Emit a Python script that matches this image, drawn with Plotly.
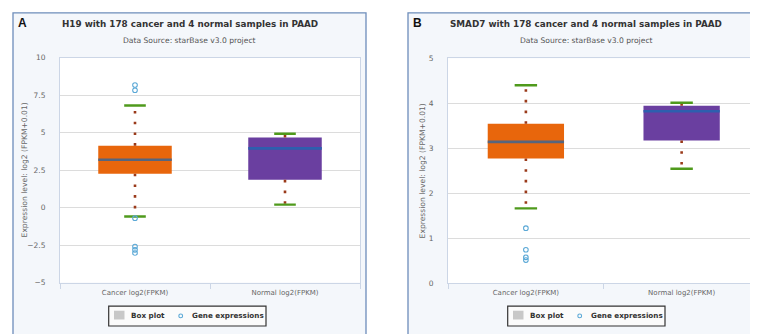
import plotly.graph_objects as go

# ---------------- data ----------------
categories = ["Cancer log2(FPKM)", "Normal log2(FPKM)"]

h19_q1 = [2.26, 1.85]
h19_median = [3.19, 3.95]
h19_q3 = [4.13, 4.67]
h19_lower = [-0.60, 0.20]
h19_upper = [6.81, 4.93]
h19_outliers_cancer = [8.18, 7.83, -0.71, -2.60, -2.82, -3.03]
h19_outliers_normal = []

smad7_q1 = [2.77, 3.17]
smad7_median = [3.14, 3.82]
smad7_q3 = [3.54, 3.94]
smad7_lower = [1.66, 2.54]
smad7_upper = [4.40, 4.01]
smad7_outliers_cancer = [1.22, 0.74, 0.57, 0.51]
smad7_outliers_normal = []

titles = ["H19 with 178 cancer and 4 normal samples in PAAD",
          "SMAD7 with 178 cancer and 4 normal samples in PAAD"]
subtitle = "Data Source: starBase v3.0 project"
ytitle = "Expression level: log2 (FPKM+0.01)"
panel_letters = ["A", "B"]

# ---------------- style ----------------
W, H = 758, 334
FONT = "DejaVu Sans"
box_colors = ["#e8660c", "#6a3fa0"]
median_colors = ["#56657e", "#2d5fae"]
cap_color = "#4f9a1c"
dot_color = "#9a3a1a"
out_color = "#5aa8d6"
BOX_W = 0.49
CAP_HALF = 0.072


def px(x):
    return x / W


def py(y):
    return 1 - y / H


fig = go.Figure()

panels = [
    dict(q1=h19_q1, med=h19_median, q3=h19_q3, lo=h19_lower, hi=h19_upper,
         outs=[h19_outliers_cancer, h19_outliers_normal],
         xa="x", ya="y"),
    dict(q1=smad7_q1, med=smad7_median, q3=smad7_q3, lo=smad7_lower, hi=smad7_upper,
         outs=[smad7_outliers_cancer, smad7_outliers_normal],
         xa="x2", ya="y2"),
]

for p in panels:
    xs = list(range(len(categories)))
    # boxes
    fig.add_trace(go.Bar(
        x=xs, y=[b - a for a, b in zip(p["q1"], p["q3"])], base=p["q1"],
        width=BOX_W, marker=dict(color=box_colors, line=dict(width=0)),
        xaxis=p["xa"], yaxis=p["ya"], showlegend=False, hoverinfo="skip"))
    for i in xs:
        # dotted whiskers
        for start, end in ((p["q3"][i], p["hi"][i]), (p["q1"][i], p["lo"][i])):
            fig.add_trace(go.Scatter(
                x=[i, i], y=[start, end], mode="lines",
                line=dict(color=dot_color, width=2.6, dash="2.6px,8.1px"),
                xaxis=p["xa"], yaxis=p["ya"], showlegend=False, hoverinfo="skip"))
        # median
        fig.add_trace(go.Scatter(
            x=[i - BOX_W / 2, i + BOX_W / 2], y=[p["med"][i]] * 2, mode="lines",
            line=dict(color=median_colors[i], width=2.6),
            xaxis=p["xa"], yaxis=p["ya"], showlegend=False, hoverinfo="skip"))
        # whisker caps
        for v in (p["hi"][i], p["lo"][i]):
            fig.add_trace(go.Scatter(
                x=[i - CAP_HALF, i + CAP_HALF], y=[v, v], mode="lines",
                line=dict(color=cap_color, width=2.4),
                xaxis=p["xa"], yaxis=p["ya"], showlegend=False, hoverinfo="skip"))
        # outliers
        if p["outs"][i]:
            fig.add_trace(go.Scatter(
                x=[i] * len(p["outs"][i]), y=p["outs"][i], mode="markers",
                marker=dict(symbol="circle-open", size=4.6, color=out_color,
                            line=dict(width=1.1, color=out_color)),
                xaxis=p["xa"], yaxis=p["ya"], showlegend=False, hoverinfo="skip"))

axis_common = dict(showgrid=False, zeroline=False, showline=True, linecolor="#ccd6e6",
                   linewidth=1, mirror=True, fixedrange=True)

xcommon = dict(axis_common, tickmode="array", tickvals=[0, 1], ticktext=categories,
               ticks="", range=[-0.5, 1.5],
               tickfont=dict(family=FONT, size=7, color="#666666"),
               ticklabelstandoff=3,
               minor=dict(tickmode="linear", tick0=-0.5, dtick=1, ticks="outside",
                          ticklen=5, tickcolor="#ccd6e6", showgrid=False))
ycommon = dict(axis_common, showgrid=True, gridcolor="#dcdcdc", gridwidth=1,
               ticks="", tickfont=dict(family=FONT, size=7.5, color="#666666"),
               ticklabelstandoff=12)

fig.update_layout(
    width=W, height=H, margin=dict(l=0, r=0, t=0, b=0),
    paper_bgcolor="white", plot_bgcolor="white",
    showlegend=False, barmode="overlay",
    xaxis=dict(xcommon, domain=[px(52), px(352)], anchor="y"),
    yaxis=dict(ycommon, domain=[py(278), py(47)], range=[-5, 10], dtick=2.5,
               tick0=0, anchor="x"),
    xaxis2=dict(xcommon, domain=[px(440), px(751.5)], anchor="y2"),
    yaxis2=dict(ycommon, domain=[py(278.5), py(47.5)], range=[0, 5], dtick=1,
                tick0=0, anchor="x2"),
)

shapes = []
annotations = []
frames = [(5, 1, 358, 332), (400, 1, 756, 333)]
plots = [(52, 47, 352, 278), (440, 47.5, 751.5, 278.5)]
offsets = [0, 399]
for k in range(2):
    fx0, fy0, fx1, fy1 = frames[k]
    shapes.append(dict(type="rect", xref="paper", yref="paper", layer="below",
                       x0=px(fx0), x1=px(fx1), y0=py(fy1), y1=py(fy0),
                       fillcolor="#f4f7fb", line=dict(color="#6d8dba", width=1.3)))
    ax0, ay0, ax1, ay1 = plots[k]
    shapes.append(dict(type="rect", xref="paper", yref="paper", layer="below",
                       x0=px(ax0), x1=px(ax1), y0=py(ay1), y1=py(ay0),
                       fillcolor="white", line=dict(width=0)))
    cx = (fx0 + fx1) / 2
    annotations.append(dict(text="<b>" + titles[k] + "</b>", x=px(cx), y=py(12),
                            xref="paper", yref="paper", showarrow=False,
                            xanchor="center", yanchor="middle",
                            font=dict(family=FONT, size=8.8, color="#333333")))
    annotations.append(dict(text=subtitle, x=px(cx), y=py(29),
                            xref="paper", yref="paper", showarrow=False,
                            xanchor="center", yanchor="middle",
                            font=dict(family=FONT, size=7.6, color="#555555")))
    annotations.append(dict(text="<b>" + panel_letters[k] + "</b>",
                            x=px(fx0 + 3), y=py(11), xref="paper", yref="paper",
                            showarrow=False, xanchor="left", yanchor="middle",
                            font=dict(family="Liberation Sans", size=12, color="#111111")))
    annotations.append(dict(text=ytitle, x=px(16.3 + (0 if k == 0 else 398.5)),
                            y=py((ay0 + ay1) / 2), xref="paper", yref="paper",
                            showarrow=False, textangle=-90, xanchor="center",
                            yanchor="middle",
                            font=dict(family=FONT, size=7.6, color="#666666")))
    # legend
    o = offsets[k]
    shapes.append(dict(type="rect", xref="paper", yref="paper",
                       x0=px(100.7 + o), x1=px(258 + o), y0=py(322.7), y1=py(302.3),
                       fillcolor="#fbfbfb", line=dict(color="#333333", width=1.2)))
    shapes.append(dict(type="rect", xref="paper", yref="paper",
                       x0=px(106 + o), x1=px(116.5 + o), y0=py(316), y1=py(307),
                       fillcolor="#c8c8c8", line=dict(width=0)))
    shapes.append(dict(type="circle", xref="paper", yref="paper",
                       x0=px(170.8 + o), x1=px(174.6 + o), y0=py(314.2), y1=py(310.4),
                       fillcolor="rgba(0,0,0,0)", line=dict(color=out_color, width=1.1)))
    annotations.append(dict(text="<b>Box plot</b>", x=px(120.5 + o), y=py(312.3),
                            xref="paper", yref="paper", showarrow=False,
                            xanchor="left", yanchor="middle",
                            font=dict(family=FONT, size=7.2, color="#333333")))
    annotations.append(dict(text="<b>Gene expressions</b>", x=px(181.5 + o), y=py(312.3),
                            xref="paper", yref="paper", showarrow=False,
                            xanchor="left", yanchor="middle",
                            font=dict(family=FONT, size=7.2, color="#333333")))

fig.update_layout(shapes=shapes, annotations=annotations)
fig.write_html("out.html")
